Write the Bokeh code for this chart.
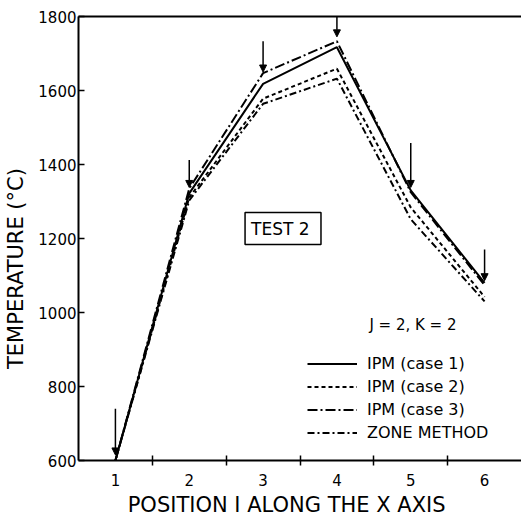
from bokeh.plotting import figure
from bokeh.models import (ColumnDataSource, FixedTicker, LinearAxis, Range1d, Label,
                          Legend, LegendItem, Arrow, NormalHead)
from bokeh.embed import file_html
from bokeh.resources import INLINE

# ---- data ----
positions = [1, 2, 3, 4, 5, 6]
ipm_case1 = [600, 1322, 1618, 1717, 1330, 1080]
ipm_case2 = [600, 1311, 1578, 1659, 1284, 1042]
ipm_case3 = [600, 1335, 1647, 1733, 1325, 1074]
zone_method = [600, 1303, 1564, 1632, 1252, 1030]

arrow_top = [740, 1412, 1733, 1800, 1458, 1170]
arrow_tip = [615, 1338, 1650, 1745, 1338, 1086]

y_ticks = [600, 800, 1000, 1200, 1400, 1600, 1800]
x_labels = [1, 2, 3, 4, 5, 6]
x_minor = [1.5, 2.5, 3.5, 4.5, 5.5]

X_TITLE = "POSITION I ALONG THE X AXIS"
Y_TITLE = "TEMPERATURE (°C)"

FONT = "DejaVu Sans"
NBSP = "\u00a0"

p = figure(width=521, height=519, output_backend="svg", toolbar_location=None,
           x_range=Range1d(0.5, 6.5), y_range=Range1d(600, 1800),
           min_border_left=78, min_border_right=0, min_border_top=16,
           min_border_bottom=59, background_fill_color="white",
           border_fill_color="white", outline_line_color=None)
p.grid.visible = False

src = ColumnDataSource(dict(x=positions, c1=ipm_case1, c2=ipm_case2,
                            c3=ipm_case3, z=zone_method))
r1 = p.line("x", "c1", source=src, line_color="black", line_width=2)
r2 = p.line("x", "c2", source=src, line_color="black", line_width=2, line_dash="4 3")
r3 = p.line("x", "c3", source=src, line_color="black", line_width=2, line_dash="10 3 2 3")
r4 = p.line("x", "z", source=src, line_color="black", line_width=2, line_dash="7 3 2 3")

# arrows
asrc = ColumnDataSource(dict(x=positions, y0=arrow_top, y1=arrow_tip))
p.add_layout(Arrow(x_start="x", y_start="y0", x_end="x", y_end="y1", source=asrc,
                   line_color="black", line_width=1.5,
                   end=NormalHead(size=7, fill_color="black", line_color="black")))

# axes
xa = p.xaxis[0]
xa.ticker = FixedTicker(ticks=x_labels, minor_ticks=x_minor)
xa.major_tick_in = 0
xa.major_tick_out = 0
xa.minor_tick_in = 5
xa.minor_tick_out = 5
xa.minor_tick_line_color = "black"
xa.minor_tick_line_width = 1.5
xa.axis_line_width = 2
xa.axis_label = X_TITLE + NBSP * 4
xa.axis_label_text_font = FONT
xa.axis_label_text_font_size = "21px"
xa.axis_label_text_font_style = "normal"
xa.axis_label_text_color = "black"
xa.axis_label_standoff = 4
xa.major_label_text_font = FONT
xa.major_label_text_font_size = "15px"
xa.major_label_text_color = "black"
xa.major_label_standoff = 8

ya = p.yaxis[0]
ya.ticker = FixedTicker(ticks=y_ticks)
ya.minor_tick_line_color = None
ya.major_tick_in = 6
ya.major_tick_out = 0
ya.major_tick_line_width = 1.5
ya.axis_line_width = 2
ya.axis_label = Y_TITLE + NBSP * 9
ya.axis_label_text_font = FONT
ya.axis_label_text_font_size = "21px"
ya.axis_label_text_font_style = "normal"
ya.axis_label_text_color = "black"
ya.axis_label_standoff = 7
ya.major_label_text_font = FONT
ya.major_label_text_font_size = "15px"
ya.major_label_text_color = "black"
ya.major_label_standoff = 2

top = LinearAxis(ticker=FixedTicker(ticks=[]), axis_line_width=2,
                 major_label_text_font_size="0px", major_tick_line_color=None,
                 minor_tick_line_color=None)
p.add_layout(top, "above")

# annotations
p.add_layout(Label(x=3.27, y=1227, text="TEST  2", text_font=FONT, text_font_size="17px",
                   text_align="center", text_baseline="middle", text_color="black",
                   border_line_color="black", border_line_width=1.5,
                   background_fill_color="white", padding=6))
p.add_layout(Label(x=4.44, y=965, text="J = 2,  K = 2", text_font=FONT,
                   text_font_size="15px", text_baseline="middle", text_color="black"))

legend = Legend(items=[LegendItem(label="IPM (case 1)", renderers=[r1]),
                       LegendItem(label="IPM (case 2)", renderers=[r2]),
                       LegendItem(label="IPM (case 3)", renderers=[r3]),
                       LegendItem(label="ZONE METHOD", renderers=[r4])],
                location=(229, 16), glyph_width=50, glyph_height=23,
                label_height=23, spacing=0, padding=0, margin=0,
                label_standoff=10, label_text_font=FONT, label_text_font_size="16px",
                label_text_color="black",
                border_line_color=None, background_fill_alpha=0)
p.add_layout(legend, "center")

open("out.html", "w").write(file_html(p, INLINE))
